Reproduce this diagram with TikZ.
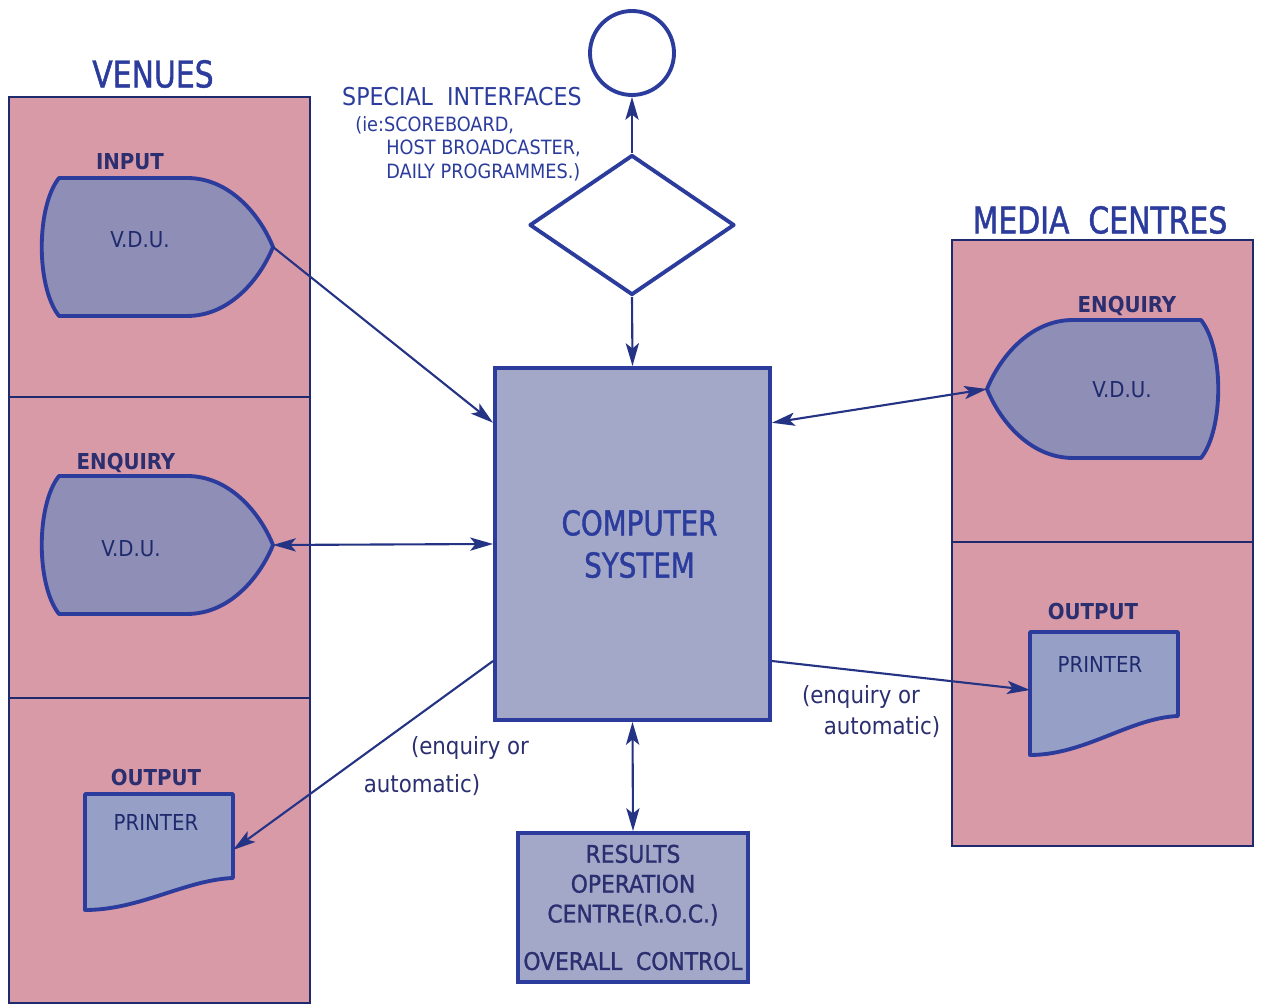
\documentclass[tikz,border=0pt]{standalone}
\usepackage{fontspec}
\setmainfont{DejaVu Sans Condensed}
\newfontfamily\heavy{DejaVu Sans Condensed}[FakeBold=1.2, FakeStretch=0.9]
\newfontfamily\stout{DejaVu Sans Condensed}[FakeBold=1.2]
\usetikzlibrary{arrows.meta, shapes.geometric}
\definecolor{venue}{HTML}{D99AA8}
\definecolor{screen}{HTML}{8E8EB6}
\definecolor{paper}{HTML}{96A0C6}
\definecolor{system}{HTML}{A3A8C9}
\definecolor{ink}{HTML}{2B3C9C}
\definecolor{lettering}{HTML}{2B2F70}

\tikzset{
  panel/.style={fill=venue, draw=ink!70!black, line width=1.5pt},
  devline/.style={draw=ink, line width=2.2pt, line join=round},
  sysbox/.style={draw=ink, line width=2.2pt, fill=system, inner sep=0pt, align=center, text=ink},
  link/.style={draw=ink!85!black, line width=1.2pt},
  title/.style={text=ink, font=\heavy\fontsize{21}{25}\selectfont},
  head/.style={text=lettering, font=\bfseries\fontsize{12.5}{15}\selectfont},
  tag/.style={text=ink!70!black, font=\fontsize{12.5}{15}\selectfont},
  note/.style={text=lettering, font=\fontsize{13.5}{16.5}\selectfont},
  small/.style={text=ink, font=\fontsize{11.2}{14}\selectfont, inner sep=0pt},
}

\begin{document}
\begin{tikzpicture}[x=0.2mm, y=-0.2mm, >={Stealth[length=13pt, width=7.5pt, inset=3pt]}]
\useasboundingbox[fill=white] (0,0) rectangle (1261,1005);

\foreach \ya/\yb in {97/397, 397/698, 698/1003}
  \draw[panel] (9,\ya) rectangle (310,\yb);
\foreach \ya/\yb in {240/542, 542/846}
  \draw[panel] (952,\ya) rectangle (1253,\yb);
\node[title] (venues) at (153,74) {VENUES};
\node[title] (media) at (1100,220) {MEDIA\ \ CENTRES};

% screens, drawn from the tip
\foreach \tx/\ty/\sx/\nm in {273/247/1/vin, 273/545/1/venq, 987/389/-1/vmed} {
  \begin{scope}[shift={(\tx,\ty)}, xscale=\sx]
    \draw[devline, fill=screen] (-214,-69) -- (-86,-69) .. controls (-42,-69) and (-12,-30) .. (0,0)
      .. controls (-12,30) and (-42,69) .. (-86,69) -- (-214,69)
      .. controls (-237,40) and (-237,-40) .. (-214,-69) -- cycle;
    \coordinate (\nm) at (0,0);
  \end{scope}
}

% printers
\foreach \px/\py/\ph/\nm in {85/794/116/pven, 1030/632/123/pmed} {
  \begin{scope}[shift={(\px,\py)}]
    \draw[devline, fill=paper] (0,0) -- (148,0) -- (148,84) .. controls (100,86) and (55,\ph) .. (0,\ph) -- cycle;
    \coordinate (\nm-e) at (148,56);
    \coordinate (\nm-w) at (0,58);
  \end{scope}
}

\node[head] (inlab) at (130,162) {INPUT};
\node[tag] (invdu) at (140,240) {V.D.U.};
\node[head] (enqlab) at (126,463) {ENQUIRY};
\node[tag] (enqvdu) at (131,549) {V.D.U.};
\node[head] (outlab) at (156,778) {OUTPUT};
\node[tag] (outprt) at (156,822) {PRINTER};
\node[head] (menqlab) at (1127,306) {ENQUIRY};
\node[tag] (menqvdu) at (1122,390) {V.D.U.};
\node[head] (moutlab) at (1093,612) {OUTPUT};
\node[tag] (moutprt) at (1100,664) {PRINTER};

\node[sysbox, minimum width=55mm, minimum height=70.4mm, font=\heavy\fontsize{19.5}{24}\selectfont] (comp) at (632.5,544)
  {\hspace*{8pt}COMPUTER\\\hspace*{8pt}SYSTEM};
\node[sysbox, minimum width=46mm, minimum height=29.8mm, font=\stout\fontsize{13.8}{17}\selectfont, text=lettering] (roc) at (633,907.5)
  {RESULTS\\OPERATION\\CENTRE(R.O.C.)\\[10pt]OVERALL\ \ CONTROL};
\node[diamond, devline, minimum width=41mm, minimum height=28mm, inner sep=0pt] (iface) at (632,225) {};
\node[circle, devline, minimum size=16.8mm, inner sep=0pt] (outlet) at (632,53) {};

\node[small, font=\fontsize{14}{17}\selectfont] (spec) at (462,97) {SPECIAL\ \ INTERFACES};
\node[small, anchor=base west] (spec1) at (355,132) {(ie:SCOREBOARD,};
\node[small, anchor=base west] (spec2) at (386,155) {HOST BROADCASTER,};
\node[small, anchor=base west] (spec3) at (386,179) {DAILY PROGRAMMES.)};

\node[note] (venqa) at (470,748) {(enquiry or};
\node[note] (venqb) at (422,785) {automatic)};
\node[note] (menqa) at (861,697) {(enquiry or};
\node[note] (menqb) at (882,727) {automatic)};

\draw[link, ->] (vin) -- (comp.139);
\draw[link, <->] (venq) -- (comp.west);
\draw[link, ->] (comp.220) -- (pven-e);
\draw[link, <->] (comp.41) -- (vmed);
\draw[link, ->] (comp.-40) -- (pmed-w);
\draw[link, ->] (iface.north) -- (outlet.south);
\draw[link, ->] (iface.south) -- (comp.north);
\draw[link, <->] (comp.south) -- (roc.north);
\end{tikzpicture}
\end{document}
